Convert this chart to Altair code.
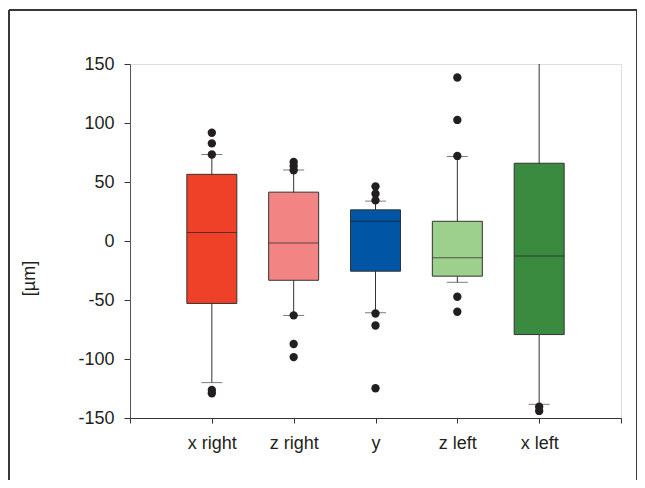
import altair as alt
import pandas as pd

cats = ["x right", "z right", "y", "z left", "x left"]
colors = ["#EE4127", "#F28583", "#0055A5", "#9DD08C", "#3A8A40"]
q1 = [-52.9, -33.3, -25.6, -29.8, -79.3]
median = [7.1, -1.7, 16.7, -14.2, -12.8]
q3 = [56.5, 41.4, 26.4, 16.7, 65.9]
whisk_lo = [-120.0, -63.1, -60.8, -35.0, -138.4]
whisk_hi = [73.3, 60.2, 33.8, 71.6, 165.0]

out_cat = (["x right"] * 5 + ["z right"] * 6 + ["y"] * 6 + ["z left"] * 5 + ["x left"] * 2)
out_val = [91.7, 82.7, 73.3, -126.2, -129.0,
           67.0, 63.5, 60.0, -63.0, -87.3, -98.4,
           46.3, 40.1, 34.4, -61.4, -71.6, -124.8,
           138.6, 102.6, 72.1, -47.2, -60.0,
           -140.4, -144.0]

y_ticks = [-150, -100, -50, 0, 50, 100, 150]

pos = {c: i + 1 for i, c in enumerate(cats)}
box = pd.DataFrame({
    "cat": cats, "pos": [pos[c] for c in cats], "q1": q1, "med": median,
    "q3": q3, "lo": whisk_lo, "hi": whisk_hi, "color": colors,
})
outs = pd.DataFrame({"cat": out_cat, "pos": [pos[c] for c in out_cat], "val": out_val})

label_expr = " : ".join(f"datum.value == {i+1} ? '{c}'" for i, c in enumerate(cats)) + " : ''"

FONT = "Liberation Sans"
TXT = "#231F20"
FS = 18

xscale = alt.Scale(domain=[0, 6], nice=False, zero=False, padding=0)
yscale = alt.Scale(domain=[-150, 150], nice=False, zero=False, padding=0)

xenc = alt.X("pos:Q", scale=xscale, axis=alt.Axis(
    values=[0, 1, 2, 3, 4, 5, 6], labelExpr=label_expr, title=None, grid=False,
    tickSize=5, labelPadding=11, labelFontSize=FS, labelFont=FONT, labelColor=TXT,
    domainColor="#333333", tickColor="#333333", labelFlush=False))
yaxis = alt.Axis(values=y_ticks, labelExpr="'' + datum.value", title="[µm]", grid=False,
                 tickSize=6, labelPadding=10,
                 labelFontSize=FS, labelFont=FONT, labelColor=TXT,
                 titleFont=FONT, titleFontSize=FS, titleFontWeight="normal", titleColor=TXT,
                 titleX=-101, titleY=214, titleAngle=-90, titleAlign="center",
                 titleBaseline="middle", domainColor="#555555", tickColor="#333333")

base = alt.Chart(box)

whisk = base.mark_rule(color="#333333", strokeWidth=1, clip=True).encode(
    x=xenc, y=alt.Y("lo:Q", scale=yscale, axis=yaxis), y2="hi:Q")
caps_lo = base.mark_tick(color="#444444", size=21, thickness=1, orient="horizontal", clip=True).encode(
    x="pos:Q", y="lo:Q")
caps_hi = base.mark_tick(color="#444444", size=21, thickness=1, orient="horizontal", clip=True).encode(
    x="pos:Q", y="hi:Q")
bars = base.mark_bar(size=50, stroke="#333333", strokeWidth=1).encode(
    x="pos:Q", y="q1:Q", y2="q3:Q",
    color=alt.Color("color:N", scale=None))
meds = base.mark_tick(color="#222222", size=50, thickness=1, orient="horizontal").encode(
    x="pos:Q", y="med:Q")
pts = alt.Chart(outs).mark_circle(size=70, color=TXT, opacity=1).encode(
    x="pos:Q", y="val:Q")

frame = alt.Chart(box).mark_rect(fill=None, stroke="#333333", strokeWidth=1, clip=False).encode(
    x=alt.value(-121), x2=alt.value(507), y=alt.value(-54), y2=alt.value(450))

chart = alt.layer(frame, whisk, caps_lo, caps_hi, bars, meds, pts).properties(
    width=491, height=354,
    autosize=alt.AutoSizeParams(type="none"),
    padding={"left": 122, "top": 56, "right": 16, "bottom": 62},
).configure_view(stroke="#888888", strokeWidth=1).configure(background="white")

chart.save("out.html", embed_options={"renderer": "svg", "actions": False})
